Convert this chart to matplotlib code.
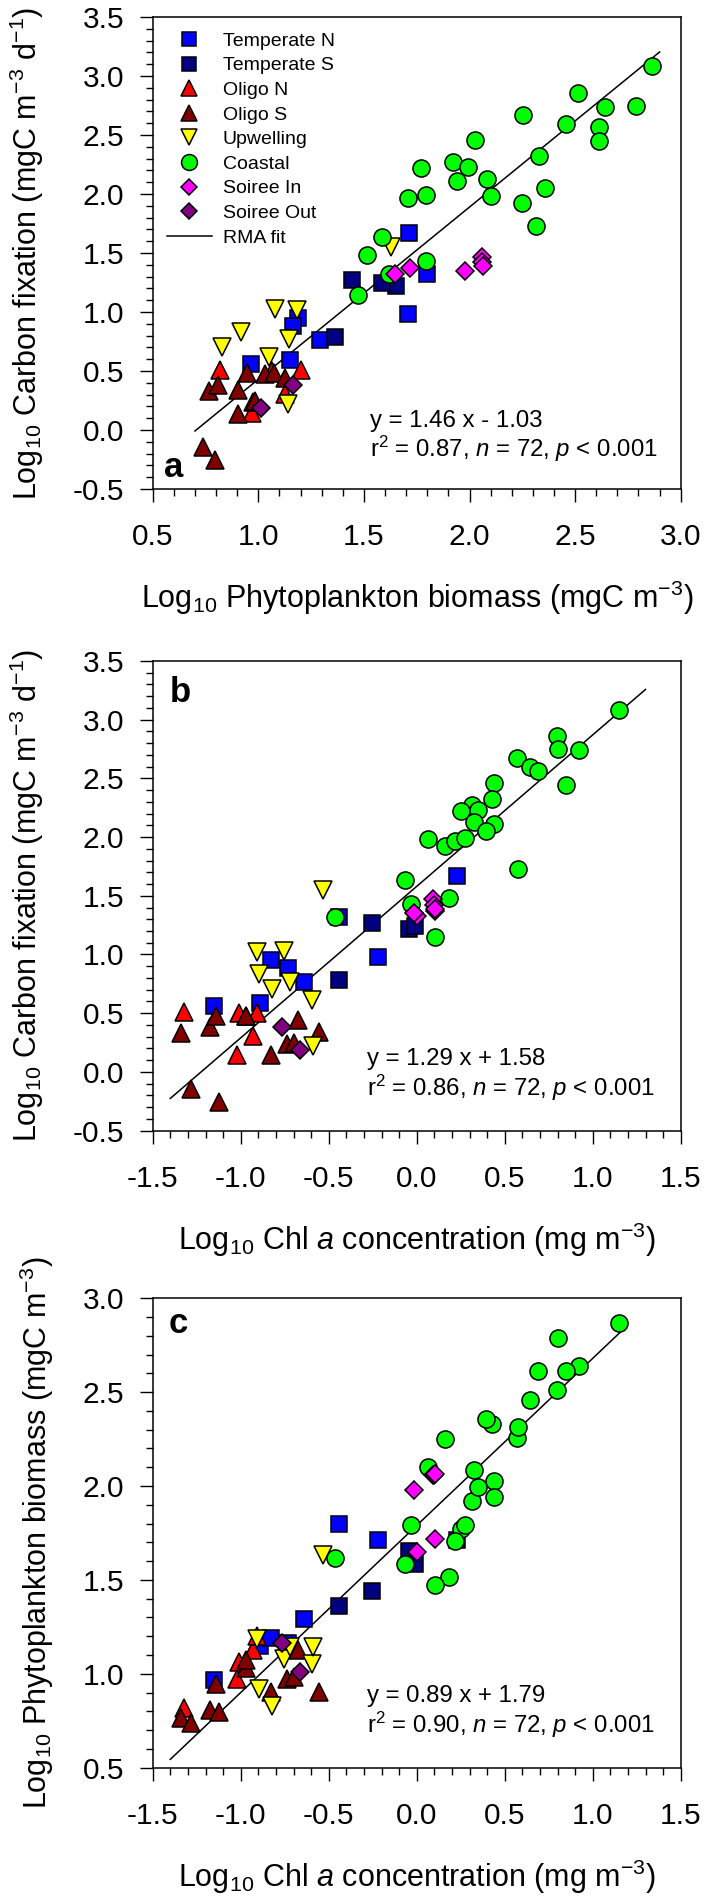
import matplotlib
matplotlib.use('Agg')
import matplotlib.pyplot as plt
from matplotlib.ticker import MultipleLocator, FormatStrFormatter
from matplotlib.lines import Line2D
import numpy as np

plt.rcParams['font.family'] = ['Liberation Sans', 'DejaVu Sans']
plt.rcParams['mathtext.fontset'] = 'custom'
plt.rcParams['mathtext.rm'] = 'Liberation Sans'
plt.rcParams['mathtext.it'] = 'Liberation Sans:italic'
plt.rcParams['mathtext.bf'] = 'Liberation Sans:bold'
plt.rcParams['axes.unicode_minus'] = False

# ---------------- data (log10 values) ----------------
categories = ["Temperate N", "Temperate S", "Oligo N", "Oligo S",
              "Upwelling", "Coastal", "Soiree In", "Soiree Out"]

temp_n_chl = [-1.15, -0.89, -0.83, -0.73, -0.64, -0.44, 0.23, -0.22]
temp_n_cfix = [0.56, 0.59, 0.95, 0.885, 0.765, 1.32, 1.67, 0.98]
temp_n_bio = [0.965, 1.15, 1.19, 1.166, 1.29, 1.80, 1.713, 1.71]

temp_s_chl = [-0.256, -0.045, -0.012, -0.44]
temp_s_cfix = [1.27, 1.22, 1.245, 0.785]
temp_s_bio = [1.442, 1.652, 1.587, 1.363]

oligo_n_chl = [-1.32, -0.93, -0.91, -1.02, -1.01]
oligo_n_cfix = [0.51, 0.305, 0.505, 0.145, 0.50]
oligo_n_bio = [0.82, 1.125, 1.20, 0.972, 1.064]

oligo_s_chl = [-1.34, -1.285, -1.175, -1.14, -1.125, -0.97, -0.97, -0.83,
               -0.735, -0.70, -0.677, -0.555]
oligo_s_cfix = [0.33, -0.145, 0.38, 0.48, -0.255, 0.475, 0.48, 0.14,
                0.24, 0.25, 0.44, 0.336]
oligo_s_bio = [0.767, 0.737, 0.807, 0.945, 0.795, 1.03, 1.072, 0.903,
               0.973, 0.985, 1.125, 0.903]

upw_chl = [-0.906, -0.754, -0.894, -0.824, -0.72, -0.597, -0.591, -0.53]
upw_cfix = [1.02, 1.03, 0.83, 0.705, 0.768, 0.615, 0.22, 1.548]
upw_bio = [1.183, 1.077, 0.917, 0.83, 1.145, 1.052, 1.14, 1.63]

coastal_chl = [1.151, 0.797, 0.805, 0.924, 0.568, 0.644, 0.69, 0.85, 0.437,
               0.426, 0.316, 0.347, 0.251, 0.326, 0.439, 0.391, 0.066, 0.161,
               0.22, 0.272, 0.577, -0.067, 0.183, -0.034, 0.104, -0.462]
coastal_cfix = [3.085, 2.857, 2.747, 2.738, 2.67, 2.597, 2.565, 2.447, 2.46,
                2.322, 2.269, 2.227, 2.224, 2.124, 2.111, 2.05, 1.984, 1.923,
                1.963, 1.991, 1.729, 1.637, 1.481, 1.433, 1.146, 1.32]
coastal_bio = [2.866, 2.512, 2.788, 2.64, 2.255, 2.457, 2.614, 2.614, 2.025,
               2.331, 1.922, 1.995, 1.769, 2.083, 1.943, 2.357, 2.10, 2.249,
               1.709, 1.795, 2.316, 1.586, 1.515, 1.794, 1.474, 1.618]

soiree_in_chl = [0.0, 0.104, -0.015, 0.095, 0.10, 0.105]
soiree_in_cfix = [1.325, 1.373, 1.35, 1.47, 1.42, 1.39]
soiree_in_bio = [1.648, 1.716, 1.978, 2.06, 2.058, 2.062]

soiree_out_chl = [-0.767, -0.663]
soiree_out_cfix = [0.38, 0.19]
soiree_out_bio = [1.162, 1.011]

# RMA fits per panel: slope, intercept, x-range
fit_slopes = [1.46, 1.29, 0.89]
fit_intercepts = [-1.03, 1.58, 1.79]
fit_xmin = [0.70, -1.40, -1.40]
fit_xmax = [2.90, 1.30, 1.18]
fit_eq = ["y = 1.46 x - 1.03", "y = 1.29 x + 1.58", "y = 0.89 x + 1.79"]
fit_r2 = ["0.87", "0.86", "0.90"]
n_obs = "72"
p_text = "0.001"

# ---------------- styles ----------------
data = {
    "Temperate N": (temp_n_chl, temp_n_cfix, temp_n_bio),
    "Temperate S": (temp_s_chl, temp_s_cfix, temp_s_bio),
    "Oligo N": (oligo_n_chl, oligo_n_cfix, oligo_n_bio),
    "Oligo S": (oligo_s_chl, oligo_s_cfix, oligo_s_bio),
    "Upwelling": (upw_chl, upw_cfix, upw_bio),
    "Coastal": (coastal_chl, coastal_cfix, coastal_bio),
    "Soiree In": (soiree_in_chl, soiree_in_cfix, soiree_in_bio),
    "Soiree Out": (soiree_out_chl, soiree_out_cfix, soiree_out_bio),
}
styles = {
    "Temperate N": dict(marker='s', ms=11.3, color='#0000ff'),
    "Temperate S": dict(marker='s', ms=11.3, color='#000080'),
    "Oligo N": dict(marker='^', ms=12.5, color='#ff0000'),
    "Oligo S": dict(marker='^', ms=12.5, color='#800000'),
    "Upwelling": dict(marker='v', ms=12.5, color='#ffff00'),
    "Coastal": dict(marker='o', ms=12.3, color='#00ff00'),
    "Soiree In": dict(marker='D', ms=9.3, color='#ff00ff'),
    "Soiree Out": dict(marker='D', ms=9.3, color='#800080'),
}

fig = plt.figure(figsize=(7.06, 18.97), dpi=100)
ax_a = fig.add_axes([0.2163, 0.7422, 0.7479, 0.2488])
ax_b = fig.add_axes([0.2163, 0.4040, 0.7479, 0.2476])
ax_c = fig.add_axes([0.2163, 0.0682, 0.7479, 0.2474])

TICK_FS = 21.5
LABEL_FS = 22
ANN_FS = 17.3

ylab_cfix = r"Log$_{10}$ Carbon fixation (mgC m$^{-3}$ d$^{-1}$)"
ylab_bio = r"Log$_{10}$ Phytoplankton biomass (mgC m$^{-3}$)"
xlab_bio = r"Log$_{10}$ Phytoplankton biomass (mgC m$^{-3}$)"
xlab_chl = r"Log$_{10}$ Chl $a$ concentration (mg m$^{-3}$)"

panels = [
    (ax_a, 2, 1, (0.5, 3.0), (-0.5, 3.5), xlab_bio, ylab_cfix, 'a'),
    (ax_b, 0, 1, (-1.5, 1.5), (-0.5, 3.5), xlab_chl, ylab_cfix, 'b'),
    (ax_c, 0, 2, (-1.5, 1.5), (0.5, 3.0), xlab_chl, ylab_bio, 'c'),
]
label_pos = {'a': (0.022, 0.025), 'b': (0.032, 0.913), 'c': (0.030, 0.927)}
ann_pos = {'a': (0.4116, 0.144, 0.0847), 'b': (0.406, 0.1524, 0.0907),
           'c': (0.406, 0.1527, 0.0910)}

for i, (ax, xi, yi, xlim, ylim, xlab, ylab, tag) in enumerate(panels):
    for z, cat in enumerate(categories):
        arrs = data[cat]
        st = styles[cat]
        ax.plot(arrs[xi], arrs[yi], linestyle='none', marker=st['marker'],
                ms=st['ms'], mfc=st['color'], mec='black', mew=1.1,
                zorder=3 + z, label=cat)
    xs = np.array([fit_xmin[i], fit_xmax[i]])
    ax.plot(xs, fit_slopes[i] * xs + fit_intercepts[i], color='black',
            lw=1.1, zorder=2, label='RMA fit')

    ax.set_xlim(*xlim)
    ax.set_ylim(*ylim)
    ax.xaxis.set_major_locator(MultipleLocator(0.5))
    ax.yaxis.set_major_locator(MultipleLocator(0.5))
    ax.xaxis.set_minor_locator(MultipleLocator(0.1))
    ax.yaxis.set_minor_locator(MultipleLocator(0.1))
    ax.xaxis.set_major_formatter(FormatStrFormatter('%.1f'))
    ax.yaxis.set_major_formatter(FormatStrFormatter('%.1f'))
    ax.tick_params(which='both', direction='out', top=False, right=False,
                   width=1.0, labelsize=TICK_FS)
    ax.tick_params(which='major', length=9.5)
    ax.tick_params(which='minor', length=4.8)
    ax.tick_params(axis='x', which='major', pad=15)
    ax.tick_params(axis='y', which='major', pad=11)
    for sp in ax.spines.values():
        sp.set_linewidth(1.1)
    ax.set_xlabel(xlab, fontsize=LABEL_FS, labelpad=20)
    ax.set_ylabel(ylab, fontsize=LABEL_FS, labelpad=19)

    lx, ly = label_pos[tag]
    ax.text(lx, ly, tag, transform=ax.transAxes, fontsize=25,
            fontweight='bold', ha='left', va='baseline')
    axx, ay1, ay2 = ann_pos[tag]
    ax.text(axx, ay1, fit_eq[i], transform=ax.transAxes, fontsize=ANN_FS,
            ha='left', va='center')
    ax.text(axx, ay2,
            r"r$^{2}$ = " + fit_r2[i] + r", $n$ = " + n_obs + r", $p$ < " + p_text,
            transform=ax.transAxes, fontsize=ANN_FS, ha='left', va='center')

# legend (panel a)
handles = []
for cat in categories:
    st = styles[cat]
    handles.append(Line2D([], [], linestyle='none', marker=st['marker'],
                          ms=st['ms'] * 0.93, mfc=st['color'], mec='black',
                          mew=1.1, label=cat))
handles.append(Line2D([], [], color='black', lw=1.1, label='RMA fit'))
ax_a.legend(handles=handles, loc='upper left', bbox_to_anchor=(0.027, 0.968),
            frameon=False, fontsize=14, handlelength=2.3,
            handletextpad=0.58, labelspacing=0.36, borderpad=0,
            borderaxespad=0)

fig.savefig('out.png', dpi=100)
